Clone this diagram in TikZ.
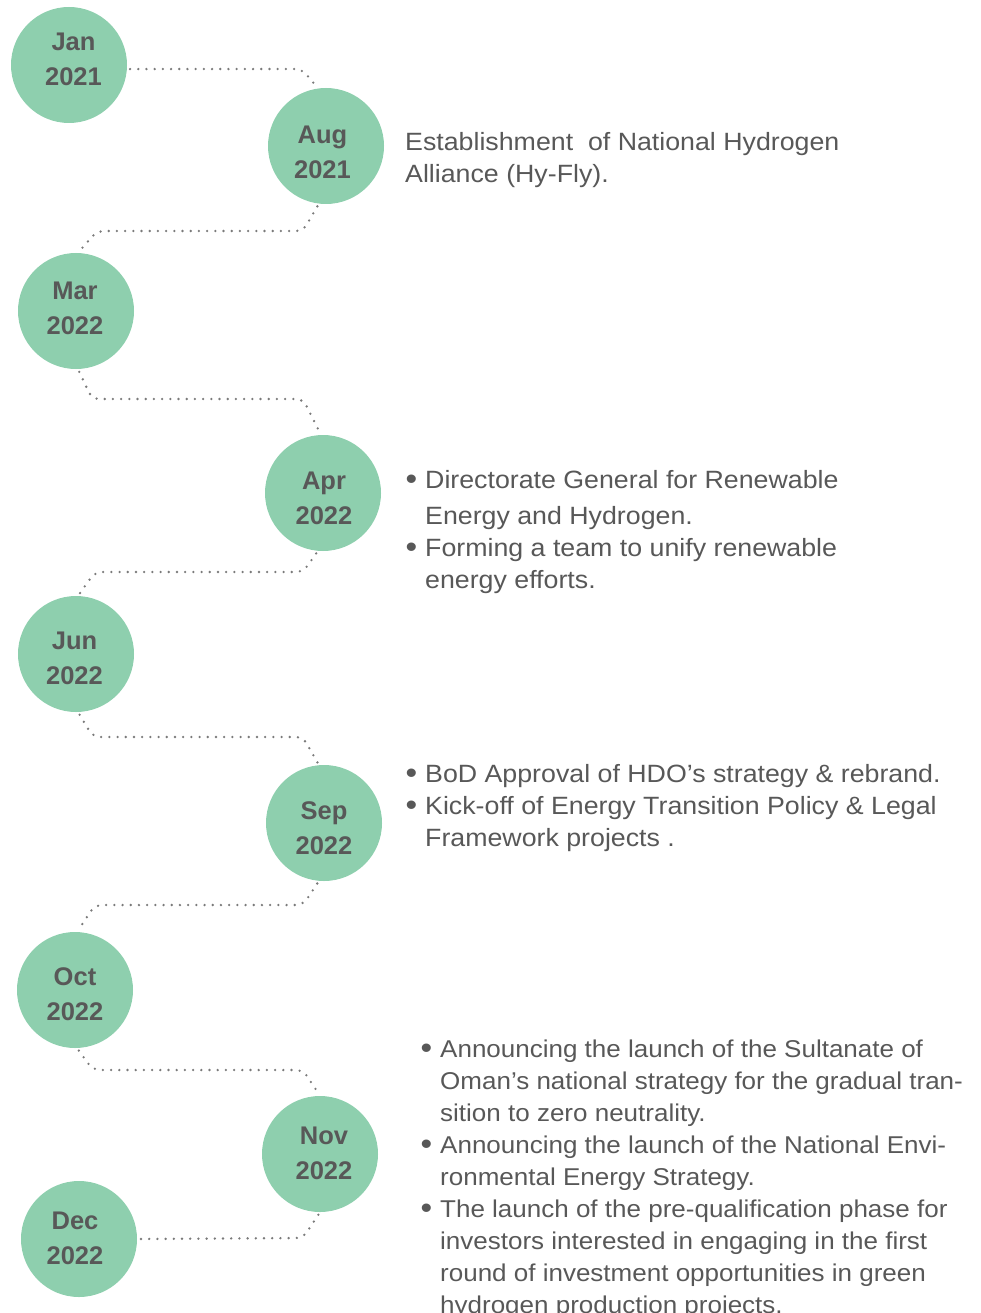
\documentclass[tikz,border=0pt]{standalone}
\usepackage{fontspec}
\newfontfamily\bodyfont[FakeStretch=1.07]{Liberation Sans}
\newfontfamily\datefont{Liberation Sans}
\definecolor{circfill}{HTML}{8ECFAE}
\definecolor{txtgray}{HTML}{585858}
\definecolor{dotgray}{HTML}{7A7A7A}
\tikzset{
  datecircle/.style={circle, fill=circfill, minimum size=116pt, inner sep=0pt},
  datelbl/.style={anchor=base, align=center, text=txtgray, inner sep=0pt,
    font=\datefont\bfseries\fontsize{25.5}{35}\selectfont},
  conn/.style={draw=dotgray, line width=2.6pt, line cap=round,
    dash pattern=on 0pt off 8.2pt, rounded corners=7pt,
    shorten <=3pt, shorten >=3pt},
  bodytxt/.style={anchor=base west, align=left, text=txtgray, inner sep=0pt,
    font=\bodyfont\fontsize{25}{32}\selectfont},
}
\newcommand{\bul}{\llap{\raisebox{-1.5pt}{\fontsize{31}{32}\selectfont\textbullet}\hspace{8pt}}}
\begin{document}
\begin{tikzpicture}[x=1pt,y=-1pt]
\useasboundingbox (0,0) rectangle (981,1313);
% circles
\node[datecircle] (c1) at (69,65) {};
\node[datecircle] (c2) at (326,146) {};
\node[datecircle] (c3) at (76,311) {};
\node[datecircle] (c4) at (323,493) {};
\node[datecircle] (c5) at (76,654) {};
\node[datecircle] (c6) at (324,823) {};
\node[datecircle] (c7) at (75,990) {};
\node[datecircle] (c8) at (320,1154) {};
\node[datecircle] (c9) at (79,1239) {};
% labels (anchored at the baseline of the last line)
\node[datelbl] (l1) at (73.5,86) {Jan\\2021};
\node[datelbl] (l2) at (322.5,179) {Aug\\2021};
\node[datelbl] (l3) at (75,334) {Mar\\2022};
\node[datelbl] (l4) at (324,524) {Apr\\2022};
\node[datelbl] (l5) at (74.5,684) {Jun\\2022};
\node[datelbl] (l6) at (324,854) {Sep\\2022};
\node[datelbl] (l7) at (75,1020) {Oct\\2022};
\node[datelbl] (l8) at (324,1179) {Nov\\2022};
\node[datelbl] (l9) at (75,1264) {Dec\\2022};
% connectors
\draw[conn] (c1.-4) -- (302,69) -- (c2.98);
\draw[conn] (c2.-97) -- (303,231) -- (97,231) -- (c3.88);
\draw[conn] (c3.-88) -- (92,399) -- (303,399) -- (c4.92);
\draw[conn] (c4.-95) -- (303,572) -- (95,572) -- (c5.88);
\draw[conn] (c5.-88) -- (93,737) -- (303,737) -- (c6.95);
\draw[conn] (c6.-95) -- (303,905) -- (95,905) -- (c7.88);
\draw[conn] (c7.-88) -- (93,1070) -- (303,1070) -- (c8.90);
\draw[conn] (c8.-90) -- (303,1238) -- (c9.east);
% texts (anchored at the baseline of the last line)
\node[bodytxt] (t1) at (405,183) {Establishment\ \ of National Hydrogen\\Alliance (Hy-Fly).};
\node[bodytxt] (t2) at (425,588) {\bul Directorate General for Renewable\\[4pt]
Energy and Hydrogen.\\
\bul Forming a team to unify renewable\\
energy efforts.};
\node[bodytxt] (t3) at (425,846) {\bul BoD Approval of HDO’s strategy \& rebrand.\\
\bul Kick-off of Energy Transition Policy \& Legal\\
Framework projects .};
\node[bodytxt, font=\bodyfont\fontsize{24.3}{32}\selectfont] (t4) at (440,1313) {\bul Announcing the launch of the Sultanate of\\
Oman’s national strategy for the gradual tran-\\
sition to zero neutrality.\\
\bul Announcing the launch of the National Envi-\\
ronmental Energy Strategy.\\
\bul The launch of the pre-qualification phase for\\
investors interested in engaging in the first\\
round of investment opportunities in green\\
hydrogen production projects.};
\end{tikzpicture}
\end{document}
